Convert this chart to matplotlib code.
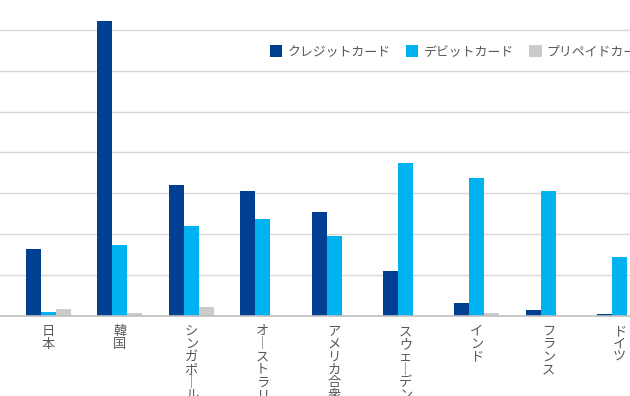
import matplotlib
matplotlib.use("Agg")
import matplotlib.pyplot as plt
import numpy as np

plt.rcParams['font.family'] = ['Noto Sans CJK JP', 'DejaVu Sans']

categories = ["日本", "韓国", "シンガポール", "オーストラリア", "アメリカ合衆国",
              "スウェーデン", "インド", "フランス", "ドイツ"]
series_names = ["クレジットカード", "デビットカード", "プリペイドカード"]
credit = [1.64, 7.21, 3.20, 3.06, 2.54, 1.10, 0.32, 0.15, 0.05]
debit = [0.10, 1.74, 2.20, 2.37, 1.96, 3.74, 3.37, 3.06, 1.44]
prepaid = [0.17, 0.07, 0.22, 0.0, 0.0, 0.0, 0.07, 0.0, 0.0]
colors = ["#003F91", "#00B2F0", "#CBCBCB"]

W, H = 630, 396
fig = plt.figure(figsize=(W / 100, H / 100), dpi=100)
base_px = 316
ax = fig.add_axes([0, (H - base_px) / H, 1, base_px / H])

x = np.arange(len(categories))
bw = 0.21
for i, (vals, name, c) in enumerate(zip([credit, debit, prepaid], series_names, colors)):
    ax.bar(x + (i - 1) * bw, vals, width=bw, color=c, label=name, zorder=3)

step_px = 40.9
ax.set_ylim(0, base_px / step_px)
ax.set_yticks(np.arange(1, 8))
ax.yaxis.grid(True, color="#D9D9D9", linewidth=1.0, zorder=0)
ax.set_xlim(-48.5 / 71.4, (W - 48.5) / 71.4)
for s in ["left", "right", "top"]:
    ax.spines[s].set_visible(False)
ax.spines["bottom"].set_color("#BFBFBF")
ax.spines["bottom"].set_linewidth(1.2)
ax.spines["bottom"].set_zorder(4)
ax.tick_params(axis="y", left=False, labelleft=False)
ax.tick_params(axis="x", bottom=False, pad=3)


def vertical(label):
    return "\n".join("｜" if ch == "ー" else ch for ch in label)


ax.set_xticks(x)
ax.set_xticklabels([vertical(c) for c in categories], fontsize=9.5,
                   color="#595959", linespacing=0.98, va="top")

fig.legend(loc="center left", bbox_to_anchor=(258 / W, 1 - 52 / H), ncol=3,
           frameon=False, fontsize=9.3, handlelength=0.97, handleheight=0.97,
           handletextpad=0.4, columnspacing=1.2, labelcolor="#595959")

fig.savefig("out.png", dpi=100)
